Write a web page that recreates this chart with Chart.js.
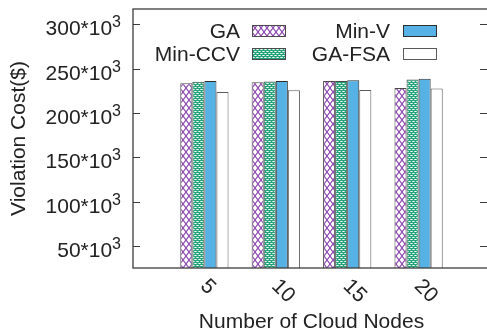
<!DOCTYPE html>
<html>
<head>
<meta charset="utf-8">
<script src="https://cdn.jsdelivr.net/npm/chart.js@4/dist/chart.umd.min.js"></script>
<style>
  html, body { margin: 0; padding: 0; background: #fff; overflow: hidden; }
  #wrap { width: 492px; height: 333px; }
</style>
</head>
<body>
<div id="wrap"><canvas id="c" width="492" height="333"></canvas></div>
<script>
// Violation cost per scheduling method, by number of cloud nodes
const categories = ['5', '10', '15', '20'];
const gaCost     = [233600, 234700, 236300, 228400];
const minCcvCost = [235200, 235500, 236300, 237800];
const minVCost   = [236300, 236300, 237000, 238600];
const gaFsaCost  = [223900, 225700, 226100, 227600];
const seriesNames = ['GA', 'Min-CCV', 'Min-V', 'GA-FSA'];
const yTicks = [50000, 100000, 150000, 200000, 250000, 300000];

const FONT = '"Liberation Sans", Arial, sans-serif';
const TEXT = '#222222';
const FRAME = '#3c3c3c';

// Fill patterns for the hatched bars
function crossHatch() {
  const t = document.createElement('canvas');
  t.width = 6; t.height = 8;
  const g = t.getContext('2d');
  g.fillStyle = '#fff'; g.fillRect(0, 0, 6, 8);
  g.strokeStyle = '#8a44ad'; g.lineWidth = 1.1;
  g.beginPath();
  g.moveTo(0, 0); g.lineTo(6, 8);
  g.moveTo(6, 0); g.lineTo(0, 8);
  g.stroke();
  return g.createPattern(t, 'repeat');
}
function dotted() {
  const t = document.createElement('canvas');
  t.width = 4; t.height = 4;
  const g = t.getContext('2d');
  g.fillStyle = '#24a27a'; g.fillRect(0, 0, 4, 4);
  g.fillStyle = '#f4fbf8';
  g.fillRect(1, 1, 1, 1); g.fillRect(3, 3, 1, 1);
  g.fillStyle = '#b3e0cf';
  g.fillRect(0, 1, 1, 1); g.fillRect(2, 1, 1, 1);
  g.fillRect(2, 3, 1, 1); g.fillRect(0, 3, 1, 1);
  return g.createPattern(t, 'repeat');
}

const ctx = document.getElementById('c').getContext('2d');
const fills = [crossHatch(), dotted(), '#56b1e5', '#ffffff'];
const borders = ['#4a4a4a', '#4a4a4a', '#2e2e2e', '#5a5a5a'];
const seriesValues = [gaCost, minCcvCost, minVCost, gaFsaCost];

const datasets = seriesValues.map((vals, s) => ({
  label: seriesNames[s],
  data: vals.map((v, i) => ({ x: i + 1, y: v })),
  backgroundColor: fills[s],
  borderColor: borders[s],
  borderWidth: 1,
  borderSkipped: 'bottom',
  categoryPercentage: 0.676,
  barPercentage: 1.0
}));

const decorations = {
  id: 'decorations',
  afterDatasetsDraw(chart) {
    const g = chart.ctx;
    const a = chart.chartArea;
    const xs = chart.scales.x, ys = chart.scales.y;
    g.save();

    // plot frame
    g.strokeStyle = FRAME; g.lineWidth = 1.3;
    g.strokeRect(a.left, a.top, a.right - a.left, a.bottom - a.top);

    // y ticks (inward, mirrored) and labels with superscript exponent
    g.lineWidth = 1;
    g.fillStyle = TEXT;
    yTicks.forEach(v => {
      const y = Math.round(ys.getPixelForValue(v)) + 0.5;
      g.beginPath();
      g.moveTo(a.left, y); g.lineTo(a.left + 7, y);
      g.moveTo(a.right - 10, y); g.lineTo(a.right, y);
      g.stroke();
      const main = (v / 1000) + '*10';
      g.font = '16px ' + FONT;
      const supW = g.measureText('3').width;
      g.textAlign = 'right'; g.textBaseline = 'alphabetic';
      g.fillText('3', 121, y + 2);
      g.font = '21px ' + FONT;
      g.fillText(main, 121 - supW, y + 10);
    });

    // x tick labels, rotated clockwise
    g.font = '21px ' + FONT;
    g.textAlign = 'left'; g.textBaseline = 'alphabetic';
    categories.forEach((c, i) => {
      const x = xs.getPixelForValue(i + 1);
      g.save();
      g.translate(x - 5, a.bottom + 19);
      g.rotate(Math.PI / 4);
      g.fillText(c, 0, 0);
      g.restore();
    });

    // axis titles
    g.font = '21px ' + FONT;
    g.textAlign = 'center';
    g.fillText('Number of Cloud Nodes', (a.left + a.right) / 2, 328);
    g.save();
    g.translate(19, 138.5);
    g.rotate(-Math.PI / 2);
    g.textBaseline = 'middle';
    g.fillText('Violation Cost($)', 0, 0);
    g.restore();

    // key: two columns, text right-aligned before each sample box
    const cols = [{ textRight: 240, boxLeft: 252 }, { textRight: 390, boxLeft: 403 }];
    const rows = [30.5, 53];
    const order = [[0, 0, 0], [1, 0, 1], [2, 1, 0], [3, 1, 1]];
    g.font = '21px ' + FONT;
    g.textAlign = 'right'; g.textBaseline = 'alphabetic';
    order.forEach(([s, col, row]) => {
      const ds = chart.data.datasets[s];
      const cy = rows[row];
      g.fillStyle = TEXT;
      g.fillText(ds.label, cols[col].textRight, cy + 7.5);
      const bx = cols[col].boxLeft, by = Math.round(cy - 5.5);
      g.fillStyle = ds.backgroundColor;
      g.fillRect(bx, by, 33, 11);
      g.strokeStyle = ds.borderColor; g.lineWidth = 1;
      g.strokeRect(bx + 0.5, by + 0.5, 33, 11);
    });
    g.restore();
  }
};

new Chart(ctx, {
  type: 'bar',
  data: { datasets },
  options: {
    responsive: false,
    animation: false,
    layout: { padding: { left: 133, right: 2, top: 9, bottom: 65 } },
    plugins: { legend: { display: false }, tooltip: { enabled: false } },
    scales: {
      x: { type: 'linear', min: 0, max: 5, offset: false, grid: { offset: false }, display: false },
      y: { type: 'linear', min: 25000, max: 317500, display: false }
    }
  },
  plugins: [decorations]
});
</script>
</body>
</html>
